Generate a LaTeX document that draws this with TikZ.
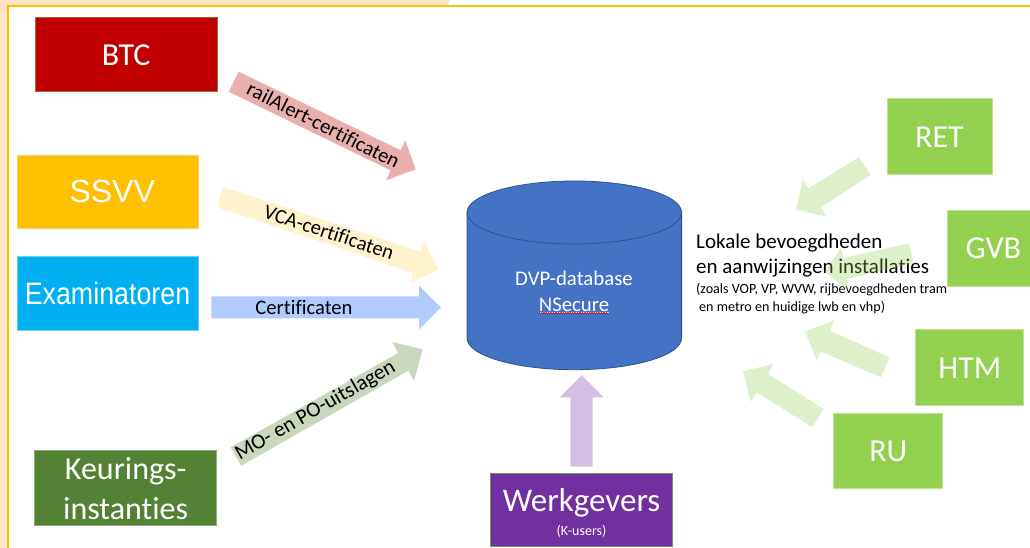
\documentclass[tikz,border=0pt]{standalone}
\usepackage{fontspec}
\usepackage{graphicx}
\setmainfont[Ligatures=NoCommon,Contextuals=NoAlternate]{Carlito}
\newfontfamily\arialfont{Liberation Sans}
\usetikzlibrary{decorations.pathmorphing}
\definecolor{peach}{HTML}{FFE4C8}
\definecolor{frameyellow}{HTML}{FFC000}
\definecolor{btcred}{HTML}{C00000}
\definecolor{btcline}{HTML}{B0623A}
\definecolor{ssvvline}{HTML}{FFD65C}
\definecolor{examblue}{HTML}{00B0F0}
\definecolor{examline}{HTML}{66D0F6}
\definecolor{keurgreen}{HTML}{548235}
\definecolor{keurline}{HTML}{8FB07A}
\definecolor{localgreen}{HTML}{92D050}
\definecolor{localline}{HTML}{BDE396}
\definecolor{werkpurple}{HTML}{7030A0}
\definecolor{werkline}{HTML}{6F9A55}
\definecolor{cylblue}{HTML}{4472C4}
\definecolor{cylline}{HTML}{2F528F}
\definecolor{railarrow}{HTML}{E9AFAF}
\definecolor{vcaarrow}{HTML}{FFF2CC}
\definecolor{certarrow}{HTML}{B0CCFF}
\definecolor{moarrow}{HTML}{C9D7BD}
\definecolor{werkarrow}{HTML}{D4BFE2}
\tikzset{
  orgbox/.style={draw, line width=1pt, text=white, align=center, inner sep=0pt,
    font=\fontsize{32}{40}\selectfont},
  capsbox/.style={orgbox, text height=21pt, text depth=0pt},
  blockarrow/.style={draw=none},
  localarrow/.style={draw=none, fill=localgreen, fill opacity=.3},
  arrowlabel/.style={text=black, inner sep=0pt, font=\fontsize{20.6}{24}\selectfont},
  infotext/.style={anchor=base west, inner sep=0pt, text=black},
}
\begin{document}
\begin{tikzpicture}[x=1pt,y=-1pt]
\useasboundingbox (0,0) rectangle (1030,548);
% slide background
\fill[white] (0,0) rectangle (1030,548);
\fill[peach] (0,0) -- (450,0) -- (447,6) -- (7,6) -- (7,548) -- (0,548) -- cycle;
\draw[frameyellow, line width=2pt] (1030,6) -- (7.7,6) -- (7.7,548);
% sources
\node[capsbox, fill=btcred, draw=btcline, minimum width=182pt, minimum height=74.5pt] (btc) at (126.2,54.7) {BTC};
\node[capsbox, fill=frameyellow, draw=ssvvline, minimum width=181.5pt, minimum height=73.5pt, font=\arialfont\fontsize{32}{40}\selectfont] (ssvv) at (108.2,192.2) {\hspace*{8pt}SSVV};
\node[capsbox, fill=examblue, draw=examline, minimum width=181pt, minimum height=73.5pt, font=\arialfont\fontsize{31}{40}\selectfont] (exam) at (107.5,293.7) {\scalebox{.865}[1]{Examinatoren}};
\node[orgbox, fill=keurgreen, draw=keurline, minimum width=182.5pt, minimum height=74.5pt] (keur) at (125.7,488.2) {Keurings-\\instanties};
\node[orgbox, fill=werkpurple, draw=werkline, minimum width=182pt, minimum height=73.5pt] (werk) at (581,510.2) {};
\node[anchor=base, text=white, inner sep=0pt, font=\fontsize{33}{40}\selectfont] (werktitle) at (581.5,511.3) {Werkgevers};
\node[anchor=base, text=white, inner sep=0pt, font=\fontsize{14}{16}\selectfont] (werksub) at (581.5,535) {(K-users)};
\node[capsbox, fill=localgreen, draw=localline, minimum width=105pt, minimum height=75.5pt] (ret) at (939.5,136.7) {RET};
\node[capsbox, fill=localgreen, draw=localline, minimum width=84pt, minimum height=76pt, anchor=west] (gvb) at (947.3,248) {\hspace*{7pt}GVB};
\node[capsbox, fill=localgreen, draw=localline, minimum width=108.3pt, minimum height=76pt] (htm) at (969.8,367.7) {HTM};
\node[capsbox, fill=localgreen, draw=localline, minimum width=108.7pt, minimum height=74.7pt] (ru) at (888.3,450.7) {RU};
% database cylinder
\path[fill=cylblue, draw=cylline, line width=.8pt]
  (467,212.5) -- (467,338) arc[start angle=180, end angle=360, x radius=107.3pt, y radius=31.7pt]
  -- (681.6,212.5) -- cycle;
\path[fill=cylblue, draw=cylline, line width=.8pt] (574.3,212.5) ellipse[x radius=107.3pt, y radius=31.5pt];
\node[anchor=base, text=white, inner sep=0pt, font=\fontsize{20.8}{24}\selectfont] (dvp) at (574,285) {DVP-database};
\node[anchor=base, text=white, inner sep=0pt, font=\fontsize{20.8}{24}\selectfont] (nsecure) at (574,311) {NSecure};
\draw[white, line width=.5pt] (nsecure.base west) ++(0,1) -- ++(70,0);
\draw[red!80!black, line width=.6pt, decorate, decoration={zigzag, amplitude=.6pt, segment length=2.4pt}] (nsecure.base west) ++(0,2) -- ++(70,0);
% description
\node[infotext, font=\fontsize{21}{24}\selectfont] (lok1) at (696,248) {Lokale bevoegdheden};
\node[infotext, font=\fontsize{21}{24}\selectfont] (lok2) at (696,273.7) {en aanwijzingen installaties};
\node[infotext, font=\fontsize{14.1}{16}\selectfont] (lok3) at (696,293.3) {(zoals VOP, VP, WVW, rijbevoegdheden tram};
\node[infotext, font=\fontsize{14.1}{16}\selectfont] (lok4) at (699,311) {en metro en huidige lwb en vhp)};
% block arrows
\path[blockarrow, fill=railarrow] (238.7,71.7) -- (400.5,150.2) -- (405.3,140.3) -- (415.7,169.3) -- (386,180.3) -- (390.7,170.4) -- (228.7,91.7) -- cycle;
\path[blockarrow, fill=vcaarrow] (222.7,187) -- (421,251.7) -- (424,241.7) -- (438.3,269.3) -- (410.7,283.3) -- (413.3,272.7) -- (217.3,207.3) -- cycle;
\path[blockarrow, fill=certarrow] (211.3,296.3) -- (419,296.3) -- (419,285.7) -- (441,307.5) -- (419,329.3) -- (419,318.3) -- (211.3,318.3) -- cycle;
\path[blockarrow, fill=moarrow] (230.7,447.3) -- (398.3,353) -- (392.3,342) -- (422.7,349.3) -- (414,380.7) -- (408.3,370.7) -- (241.3,465.7) -- cycle;
\path[blockarrow, fill=werkarrow] (570.3,466.7) -- (570.3,397.3) -- (559.7,397.3) -- (581.7,375.3) -- (603.7,397.3) -- (592.7,397.3) -- (592.7,466.7) -- cycle;
\path[localarrow] (859,157.3) -- (808.3,188.3) -- (803,179.3) -- (796,209.7) -- (826.3,216.7) -- (821,207.3) -- (870.7,175) -- cycle;
\path[localarrow] (909.3,243.3) -- (843.5,258) -- (840.7,248.3) -- (825,272) -- (848,290) -- (847,279) -- (913.3,263.3) -- cycle;
\path[localarrow] (889.3,357.3) -- (830,330.7) -- (834,320.7) -- (805,331.3) -- (816.7,360.7) -- (820.7,351.7) -- (881,377.3) -- cycle;
\path[localarrow] (823.7,409) -- (768.3,374) -- (773.3,364) -- (743,371.3) -- (751,401.7) -- (756.7,392.3) -- (812.3,427.3) -- cycle;
% arrow labels
\node[arrowlabel, rotate=-26.5] (raillabel) at (323.5,125) {railAlert-certificaten};
\node[arrowlabel, rotate=-18.2] (vcalabel) at (329,232) {VCA-certificaten};
\node[arrowlabel] (certlabel) at (304,307.3) {Certificaten};
\node[arrowlabel, rotate=29.9, font=\fontsize{21.4}{24}\selectfont] (molabel) at (315.5,410.7) {MO- en PO-uitslagen};
\end{tikzpicture}
\end{document}
